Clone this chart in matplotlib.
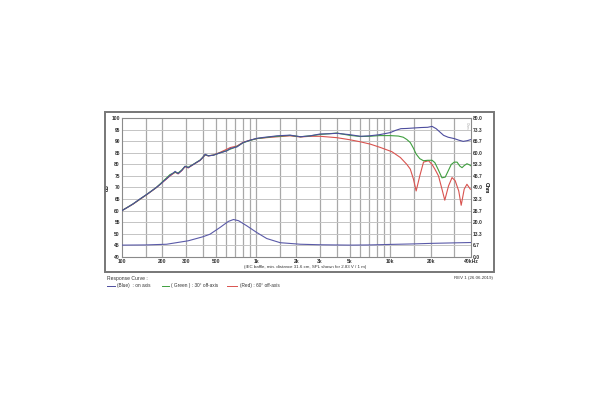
import numpy as np
import matplotlib
matplotlib.use('Agg')
import matplotlib.pyplot as plt
from matplotlib.patches import Rectangle

plt.rcParams['font.family'] = ['Liberation Sans', 'DejaVu Sans']

# on-axis SPL (blue)
freq_on = [100, 110, 121, 135, 153, 168, 181, 195, 203, 215, 228, 240, 249, 262, 279, 295, 312, 325,
           341, 360, 382, 400, 417, 440, 480, 537, 605, 640, 720, 800, 900, 1010, 1130, 1300, 1430,
           1790, 2140, 2530, 3000, 3500, 4000, 5000, 6000, 7000, 8300, 10000, 11000, 12000, 13300,
           15000, 17000, 19000, 20500, 22000, 23500, 25000, 27000, 30000, 32500, 35000, 37500, 40000]
spl_on = [60, 61.4, 62.9, 64.9, 67, 68.7, 70.1, 71.6, 72.6, 73.8, 75.2, 76.2, 77, 76, 77.4, 79.2, 78.6, 79.3,
          80, 80.9, 81.8, 83, 84.4, 83.7, 84, 85, 85.9, 86.9, 87.6, 89.5, 90.5, 91.3, 91.7, 92.1, 92.4,
          92.7, 92, 92.4, 93.2, 93.3, 93.5, 92.9, 92.2, 92.4, 92.9, 93.8, 94.8, 95.5, 95.6,
          95.8, 96, 96.1, 96.5, 95.5, 94, 92.6, 91.8, 91.2, 90.5, 90, 90.3, 90.8]

# 30 deg off-axis (green)
freq_30 = [100, 121, 153, 181, 203, 228, 249, 262, 279, 295, 312, 341, 382, 417, 440, 480, 537, 605, 720,
           800, 900, 1010, 1300, 1790, 2140, 2530, 3000, 4000, 5000, 6000, 7000, 8300, 10000, 11500,
           12500, 13300, 14100, 14900, 15600, 16600, 17700, 19000, 20500, 21500, 22900, 24300, 25700,
           27200, 28500, 30000, 31500, 33000, 34300, 35600, 37300, 39000, 40000]
spl_30 = [60, 62.9, 67, 70.1, 72.8, 75.6, 76.6, 76.3, 77.6, 79.2, 78.8, 80.1, 81.9, 84.2, 83.8, 84, 85, 86, 87.8,
          89.4, 90.4, 91.2, 92, 92.6, 92, 92.4, 93, 93.6, 92.6, 92.1, 92.2, 92.5, 92.5, 92.3,
          91.8, 90.8, 89.5, 87, 84.5, 82.5, 81.6, 81.8, 81.8, 80.8, 77.5, 74.2, 74.5,
          77.5, 80, 81, 81, 79.3, 78.6, 79.5, 80.3, 79.8, 79.4]

# 60 deg off-axis (red)
freq_60 = [100, 121, 153, 181, 203, 228, 249, 262, 279, 295, 312, 341, 382, 417, 440, 480, 537, 605, 640,
           720, 800, 900, 1010, 1300, 1790, 2140, 2530, 3000, 4000, 5000, 6000, 7100, 8400, 10300,
           11900, 13300, 14100, 14900, 15600, 16600, 17700, 19300, 20500, 21500, 22900, 24300, 25500,
           27200, 28900, 30500, 32400, 33800, 35600, 37300, 39500, 40000]
spl_60 = [60, 62.8, 66.9, 70, 72.5, 75, 76.6, 75.9, 77.3, 79, 78.5, 80, 81.7, 84.1, 83.7, 84.1, 85.2, 86.6, 87.3,
          88, 89.6, 90.5, 91.2, 91.8, 92.4, 91.9, 92.2, 92.2, 91.6, 90.7, 89.8, 88.8, 87.4, 85.5,
          83, 80, 78, 73.6, 68.5, 75, 81, 81.6, 80, 78, 75, 69.3, 64.5,
          70.7, 74.3, 72.9, 68.5, 62.3, 69.3, 71.4, 69.3, 69.2]

# impedance (Ohm, right axis)
freq_imp = [100, 150, 215, 312, 400, 453, 538, 621, 678, 740, 850, 1010, 1200, 1510, 2140, 3000,
            5000, 7000, 10000, 15000, 20000, 30000, 40000]
imp = [6.7, 6.8, 7.2, 9.2, 11.5, 13, 16.9, 20.4, 21.5, 20.8, 17.9, 14, 10.5, 8.1, 7.2, 6.9,
       6.7, 6.8, 7.1, 7.4, 7.7, 8.0, 8.2]

grid_f = [150, 200, 300, 400, 500, 600, 700, 800, 900, 1000, 1500, 2000, 3000, 4000, 5000,
          6000, 7000, 8000, 9000, 10000, 15000, 20000, 30000]
label_f = [100, 200, 300, 500, 1000, 2000, 3000, 5000, 10000, 20000, 40000]
label_txt = ['100', '200', '300', '500', '1k', '2k', '3k', '5k', '10k', '20k', '40kHz']

fig = plt.figure(figsize=(6, 4), dpi=100)
fig.patches.append(Rectangle((105 / 600, 1 - 272 / 400), 389 / 600, 160 / 400, transform=fig.transFigure,
                             fill=False, edgecolor='#777777', lw=1.4))

ax = fig.add_axes([122 / 600, 1 - 256.7 / 400, 349 / 600, 138.4 / 400])
ax.set_xscale('log')
ax.set_xlim(100, 40000)
ax.set_ylim(40, 100)

for f in grid_f:
    ax.axvline(f, color='#a8a8a8', lw=0.9, zorder=1)
for y in range(45, 100, 5):
    ax.axhline(y, color='#c4c4c4', lw=0.7, zorder=1)

ax.plot(freq_60, spl_60, color='#d9534f', lw=0.8, zorder=3)
ax.plot(freq_30, spl_30, color='#3f9f3f', lw=0.8, zorder=4)
ax.plot(freq_on, spl_on, color='#4d4d9e', lw=0.8, zorder=5)

ax.xaxis.set_minor_locator(plt.NullLocator())
ax.set_xticks(label_f)
ax.set_xticklabels(label_txt, fontsize=3.6, fontweight='bold', color='#333333')
ax.set_yticks(range(40, 101, 5))
ax.set_yticklabels([str(v) for v in range(40, 101, 5)], fontsize=3.6, fontweight='bold', color='#333333')
ax.tick_params(axis='both', length=0, pad=1.5)
ax.set_ylabel('dB', fontsize=3.6, fontweight='bold', labelpad=1)
for s in ax.spines.values():
    s.set_color('#8a8a8a')
    s.set_linewidth(0.8)

ax2 = ax.twinx()
ax2.set_ylim(0, 80)
ax2.plot(freq_imp, imp, color='#5a5aa8', lw=0.8, zorder=5)
ax2.set_yticks(np.linspace(0, 80, 13))
ax2.set_yticklabels(['%.1f' % v for v in np.linspace(0, 80, 13)], fontsize=3.6, fontweight='bold',
                    color='#333333')
ax2.tick_params(axis='y', length=0, pad=1.5)
ax2.set_ylabel('Ohm', fontsize=3.6, fontweight='bold', rotation=270, labelpad=4)
for s in ax2.spines.values():
    s.set_visible(False)
ax2.text(0.988, 0.97, 'Ohm', transform=ax2.transAxes, fontsize=2.5, color='#aaaaaa', rotation=270,
         ha='center', va='top')

fig.text(305 / 600, 1 - 267 / 400, '(IEC baffle, min. distance 31.6 cm, SPL shown for 2.83 V / 1 m)',
         fontsize=3.2, ha='center', va='center', color='#333333')

fig.text(107 / 600, 1 - 278.5 / 400, 'Response Curve :', fontsize=3.6, ha='left', va='center', color='#333333')
fig.text(493 / 600, 1 - 277.5 / 400, 'REV 1 (26.06.2019)', fontsize=3.2, ha='right', va='center', color='#333333')

legend_items = [(107, 115, 117, '#4d4d9e', '(Blue)  : on axis'),
                (162, 169, 171, '#3f9f3f', '( Green ) : 30° off-axis'),
                (227, 237, 240, '#d9534f', '(Red) : 60° off-axis')]
for x0, x1, xt, c, t in legend_items:
    fig.add_artist(plt.Line2D([x0 / 600, x1 / 600], [1 - 286 / 400] * 2, color=c, lw=0.7,
                              transform=fig.transFigure))
    fig.text(xt / 600, 1 - 286 / 400, t, fontsize=3.4, ha='left', va='center', color='#333333')

fig.savefig('out.png', dpi=100)
